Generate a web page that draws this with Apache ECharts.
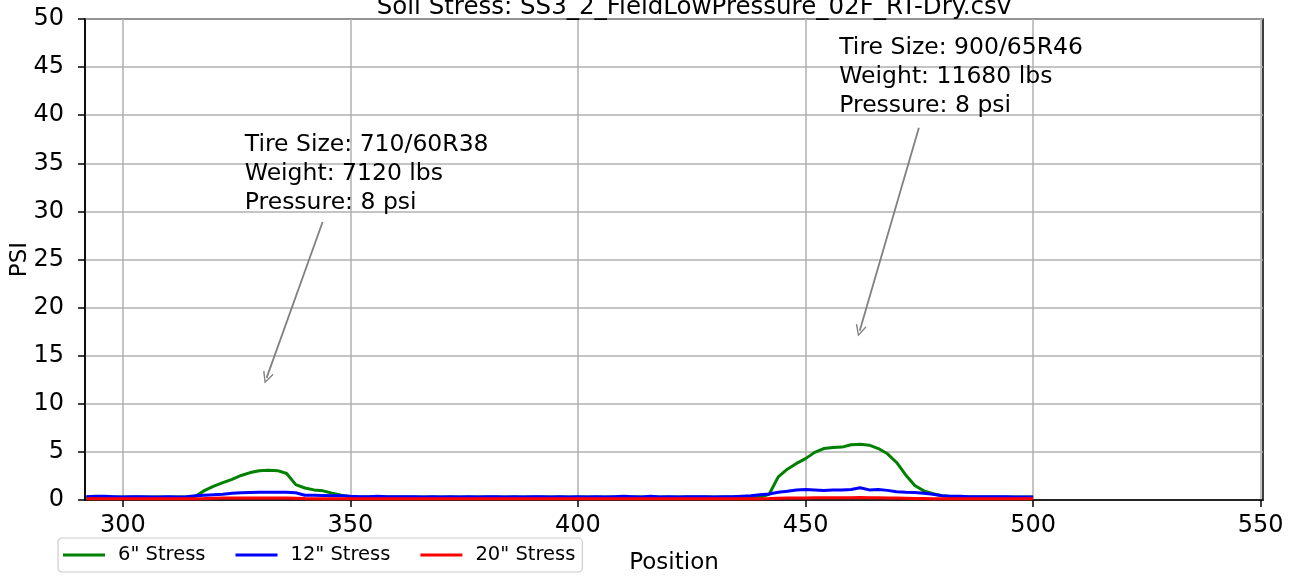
<!DOCTYPE html>
<html>
<head>
<meta charset="utf-8">
<script src="https://cdn.jsdelivr.net/npm/echarts@6/dist/echarts.min.js"></script>
<style>
html,body{margin:0;padding:0;background:#fff;}
#chart{width:1292px;height:576px;}
</style>
</head>
<body>
<div id="chart"></div>
<script>
// ---- data ----
const positions = [292,294,296,298,300,302,304,306,308,310,312,314,316,318,320,322,324,326,328,330,332,334,336,338,340,342,344,346,348,350,352,354,356,358,360,362,364,366,368,370,372,374,376,378,380,382,384,386,388,390,392,394,396,398,400,402,404,406,408,410,412,414,416,418,420,422,424,426,428,430,432,434,436,438,440,442,444,446,448,450,452,454,456,458,460,462,464,466,468,470,472,474,476,478,480,482,484,486,488,490,492,494,496,498,500];
const stress6 = [0.3,0.3,0.3,0.3,0.3,0.3,0.3,0.3,0.3,0.3,0.3,0.3,0.4,1.0,1.45,1.8,2.15,2.55,2.85,3.05,3.1,3.05,2.75,1.6,1.25,1.05,0.95,0.7,0.5,0.35,0.3,0.3,0.3,0.3,0.3,0.3,0.3,0.3,0.3,0.3,0.3,0.3,0.3,0.3,0.3,0.3,0.3,0.3,0.3,0.3,0.3,0.3,0.3,0.3,0.3,0.3,0.3,0.3,0.3,0.3,0.3,0.3,0.3,0.3,0.3,0.3,0.3,0.3,0.3,0.3,0.3,0.3,0.3,0.3,0.3,0.6,2.4,3.2,3.8,4.3,4.95,5.35,5.45,5.5,5.75,5.8,5.7,5.35,4.8,3.9,2.6,1.5,0.95,0.65,0.45,0.35,0.3,0.3,0.3,0.3,0.3,0.3,0.3,0.3,0.3];
const stress12 = [0.35,0.38,0.4,0.35,0.3,0.35,0.33,0.3,0.3,0.35,0.3,0.35,0.45,0.5,0.55,0.6,0.7,0.75,0.78,0.8,0.8,0.8,0.8,0.75,0.5,0.5,0.48,0.45,0.45,0.38,0.35,0.35,0.38,0.33,0.35,0.33,0.35,0.3,0.33,0.3,0.33,0.3,0.35,0.3,0.33,0.35,0.3,0.33,0.3,0.35,0.33,0.3,0.35,0.3,0.33,0.3,0.33,0.3,0.35,0.38,0.35,0.3,0.38,0.3,0.33,0.3,0.35,0.33,0.35,0.3,0.35,0.33,0.4,0.45,0.55,0.62,0.8,0.9,1.05,1.1,1.05,1.0,1.05,1.05,1.1,1.28,1.05,1.1,1.0,0.85,0.8,0.78,0.7,0.6,0.45,0.4,0.38,0.35,0.35,0.33,0.35,0.33,0.3,0.3,0.3];
const stress20 = [0.12,0.12,0.12,0.12,0.12,0.12,0.12,0.12,0.12,0.12,0.12,0.12,0.13,0.15,0.18,0.2,0.2,0.22,0.22,0.22,0.22,0.22,0.2,0.18,0.15,0.13,0.12,0.12,0.12,0.12,0.12,0.12,0.12,0.12,0.12,0.12,0.12,0.12,0.12,0.12,0.12,0.12,0.12,0.12,0.12,0.12,0.12,0.12,0.12,0.12,0.12,0.12,0.12,0.12,0.12,0.12,0.12,0.12,0.12,0.12,0.12,0.12,0.12,0.12,0.12,0.12,0.12,0.12,0.12,0.12,0.12,0.12,0.12,0.13,0.14,0.15,0.18,0.2,0.22,0.22,0.23,0.23,0.24,0.24,0.24,0.25,0.24,0.23,0.22,0.2,0.18,0.16,0.15,0.14,0.13,0.12,0.12,0.12,0.12,0.12,0.12,0.12,0.12,0.12,0.12];
const seriesNames = ['6" Stress', '12" Stress', '20" Stress'];
const seriesColors = ['#008000', '#0000ff', '#ff0000'];
const xTicks = [300,350,400,450,500,550];
const titleText = 'Soil Stress: SS3_2_FieldLowPressure_02F_RT-Dry.csv';
const annotations = [
  { text: 'Tire Size: 710/60R38\nWeight: 7120 lbs\nPressure: 8 psi', at: [326.8, 38.4], from: [343.9, 28.9], to: [331.6, 12.7] },
  { text: 'Tire Size: 900/65R46\nWeight: 11680 lbs\nPressure: 8 psi', at: [457.4, 48.5], from: [474.9, 38.7], to: [461.9, 17.6] }
];

const FONT = 'DejaVu Sans';
const chart = echarts.init(document.getElementById('chart'));
const allSeries = [stress6, stress12, stress20];

const arrowHead = 'path://M5,0 L10,10 L9,11 L5,2.6 L1,11 L0,10 Z';

const series = allSeries.map((vals, i) => ({
  name: seriesNames[i],
  type: 'line',
  data: positions.map((p, k) => [p, vals[k]]),
  symbol: 'none',
  smooth: false,
  lineStyle: { color: seriesColors[i], width: 3 },
  itemStyle: { color: seriesColors[i] },
  z: 3 + i,
  markLine: i === 0 ? {
    silent: true,
    symbol: ['none', arrowHead],
    symbolSize: [11, 12],
    label: { show: false },
    lineStyle: { color: '#808080', width: 1.8, type: 'solid' },
    animation: false,
    data: annotations.map(a => [{ coord: a.from }, { coord: a.to }])
  } : undefined
}));

chart.setOption({
  animation: false,
  backgroundColor: '#fff',
  title: {
    text: titleText,
    left: 689,
    top: -10,
    textAlign: 'center',
    textStyle: { fontFamily: FONT, fontSize: 24.5, fontWeight: 'normal', color: '#000' }
  },
  grid: { left: 85, right: 29, top: 19, bottom: 76, show: true, borderColor: '#000', borderWidth: 1.5, backgroundColor: 'transparent', containLabel: false, outerBoundsMode: 'none' },
  legend: {
    data: seriesNames,
    left: 58, top: 538,
    orient: 'horizontal',
    icon: 'rect',
    itemWidth: 42, itemHeight: 3,
    itemGap: 30,
    padding: [7, 7, 7, 5],
    borderColor: '#cccccc', borderWidth: 1.2, borderRadius: 4,
    backgroundColor: '#fff',
    textStyle: { fontFamily: FONT, fontSize: 19.5, color: '#000', padding: [0, 0, 0, 8] }
  },
  xAxis: {
    type: 'value',
    min: 291.7, max: 550.5,
    splitNumber: 5,
    name: 'Position',
    nameLocation: 'middle',
    nameGap: 52,
    nameTextStyle: { fontFamily: FONT, fontSize: 23, color: '#000' },
    axisLine: { show: true, lineStyle: { color: '#000', width: 1.5 } },
    axisTick: { show: true, inside: false, length: 7, lineStyle: { color: '#000', width: 1.5 }, customValues: xTicks },
    axisLabel: { fontFamily: FONT, fontSize: 24, color: '#000', margin: 14, customValues: xTicks },
    splitLine: { show: true, lineStyle: { color: '#b0b0b0', width: 1.5 } }
  },
  yAxis: {
    type: 'value',
    min: 0, max: 50, interval: 5,
    name: 'PSI',
    nameLocation: 'middle',
    nameGap: 53,
    nameMoveOverlap: false,
    nameTextStyle: { fontFamily: FONT, fontSize: 23, color: '#000' },
    axisLine: { show: true, lineStyle: { color: '#000', width: 1.5 } },
    axisTick: { show: true, inside: false, length: 7, lineStyle: { color: '#000', width: 1.5 } },
    axisLabel: { fontFamily: FONT, fontSize: 24, color: '#000', margin: 21 },
    splitLine: { show: true, lineStyle: { color: '#b0b0b0', width: 1.5 } }
  },
  series: series
});

// annotation text placed in data coordinates
const graphics = annotations.map(a => {
  const p = chart.convertToPixel({ gridIndex: 0 }, a.at);
  return {
    type: 'text',
    x: p[0], y: p[1],
    z: 10,
    style: { text: a.text, fontFamily: FONT, fontSize: 23.5, lineHeight: 29, fill: '#000', textAlign: 'left', textVerticalAlign: 'top' }
  };
});
chart.setOption({ graphic: graphics });
</script>
</body>
</html>
